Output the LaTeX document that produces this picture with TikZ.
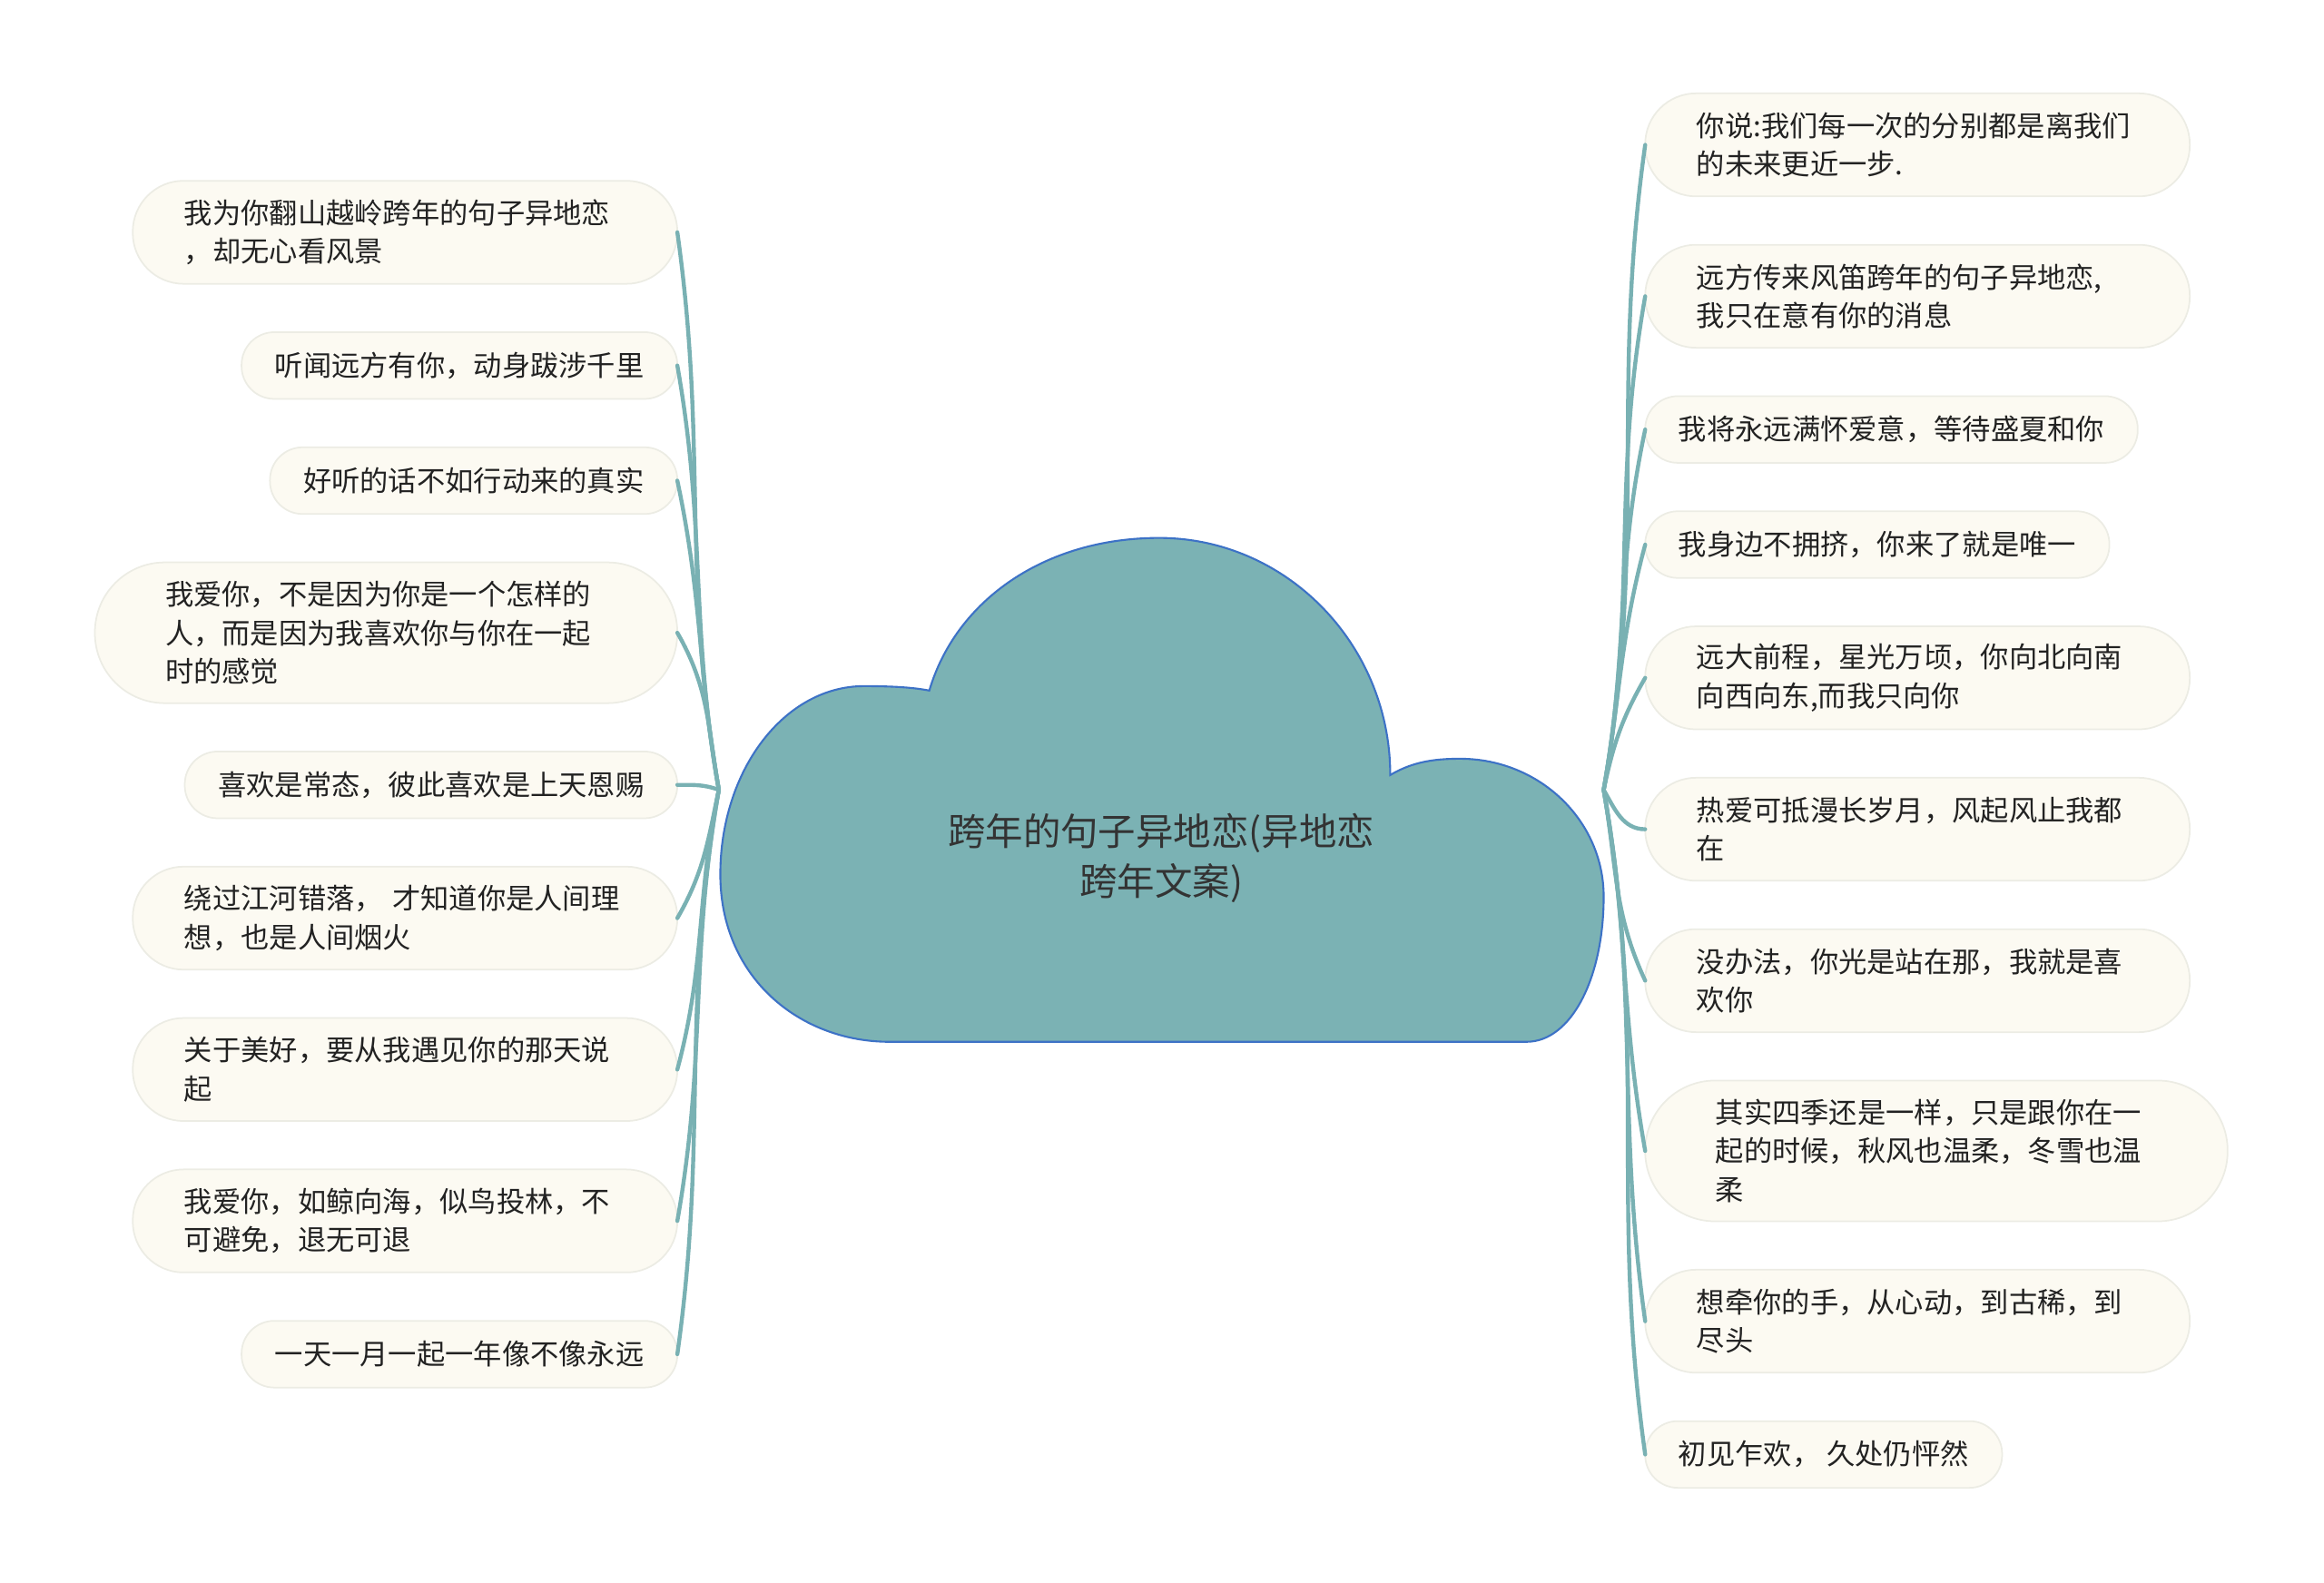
\documentclass[tikz,border=0pt]{standalone}
\usepackage{fontspec}
\usepackage{tikz}
\usetikzlibrary{positioning}
\newfontfamily\cjkfont{Noto Sans CJK SC}
\definecolor{bubblefill}{HTML}{7BB2B4}
\definecolor{bubbleline}{HTML}{3D72C6}
\definecolor{branchcol}{HTML}{79B1B3}
\definecolor{leaffill}{HTML}{FCFAF2}
\definecolor{leafline}{HTML}{ECECE4}
\definecolor{leaftext}{HTML}{222222}
\definecolor{topictext}{HTML}{333333}

\begin{document}
\begin{tikzpicture}[x=0.016327cm, y=-0.016327cm, node distance=0.533cm,
    bubble/.style={draw=bubbleline, line width=0.6pt, fill=bubblefill},
    topic/.style={font=\cjkfont\fontsize{11.8}{15.8}\selectfont, text=topictext, align=center},
    leaf/.style={rectangle, rounded corners=0.36cm, draw=leafline, line width=0.5pt, fill=leaffill,
        inner xsep=0.367cm, inner ysep=0pt, outer sep=0pt, minimum height=0.735cm,
        font=\cjkfont\fontsize{8.9}{12.08}\selectfont, text=leaftext, align=left},
    lines2/.style={minimum height=1.135cm, rounded corners=0.56cm, inner xsep=0.567cm, text width=4.865cm},
    lines3/.style={minimum height=1.551cm, rounded corners=0.77cm, inner xsep=0.7755cm, text width=4.865cm},
    branch/.style={draw=branchcol, line width=1.25pt, line cap=round}
]
\useasboundingbox (0,0) rectangle (1568,1068);

% Cloud
\draw[bubble] (600,703) .. controls (540,703) and (486,660) .. (486,590)
    .. controls (486,520) and (529,463) .. (583,463)
    .. controls (603,463) and (617,464) .. (627,466)
    .. controls (645,405) and (705,363) .. (782,363)
    .. controls (868,363) and (938,435) .. (938,523)
    .. controls (953,514) and (968,512) .. (985,512)
    .. controls (1039,512) and (1082,554) .. (1082,605)
    .. controls (1082,660) and (1060,703) .. (1030,703)
    -- cycle;
\node[topic] (topic) at (783.5,579) {跨年的句子异地恋(异地恋\\跨年文案)};
\coordinate (lhub) at (485,533);
\coordinate (rhub) at (1082,533);

% Left side
\node[leaf, lines2, anchor=north east] (L1) at (457,122) {我为你翻山越岭跨年的句子异地恋\\，却无心看风景};
\node[leaf, below=of L1.south east, anchor=north east] (L2) {听闻远方有你，动身跋涉千里};
\node[leaf, below=of L2.south east, anchor=north east] (L3) {好听的话不如行动来的真实};
\node[leaf, lines3, below=of L3.south east, anchor=north east] (L4) {我爱你，不是因为你是一个怎样的\\人，而是因为我喜欢你与你在一起\\时的感觉};
\node[leaf, below=of L4.south east, anchor=north east] (L5) {喜欢是常态，彼此喜欢是上天恩赐};
\node[leaf, lines2, below=of L5.south east, anchor=north east] (L6) {绕过江河错落， 才知道你是人间理\\想，也是人间烟火};
\node[leaf, lines2, below=of L6.south east, anchor=north east] (L7) {关于美好，要从我遇见你的那天说\\起};
\node[leaf, lines2, below=of L7.south east, anchor=north east] (L8) {我爱你，如鲸向海，似鸟投林，不\\可避免，退无可退};
\node[leaf, below=of L8.south east, anchor=north east] (L9) {一天一月一起一年像不像永远};

% Right side
\node[leaf, lines2, anchor=north west] (R1) at (1110,63) {你说:我们每一次的分别都是离我们\\的未来更近一步.};
\node[leaf, lines2, below=of R1.south west, anchor=north west] (R2) {远方传来风笛跨年的句子异地恋,\\我只在意有你的消息};
\node[leaf, below=of R2.south west, anchor=north west] (R3) {我将永远满怀爱意，等待盛夏和你};
\node[leaf, below=of R3.south west, anchor=north west] (R4) {我身边不拥挤，你来了就是唯一};
\node[leaf, lines2, below=of R4.south west, anchor=north west] (R5) {远大前程，星光万顷，你向北向南\\向西向东,而我只向你};
\node[leaf, lines2, below=of R5.south west, anchor=north west] (R6) {热爱可抵漫长岁月，风起风止我都\\在};
\node[leaf, lines2, below=of R6.south west, anchor=north west] (R7) {没办法，你光是站在那，我就是喜\\欢你};
\node[leaf, lines3, below=of R7.south west, anchor=north west] (R8) {其实四季还是一样，只是跟你在一\\起的时候，秋风也温柔，冬雪也温\\柔};
\node[leaf, lines2, below=of R8.south west, anchor=north west] (R9) {想牵你的手，从心动，到古稀，到\\尽头};
\node[leaf, below=of R9.south west, anchor=north west] (R10) {初见乍欢， 久处仍怦然};

% Connections
\foreach \n/\o/\i in {L1/100/-82, L2/100/-80, L3/100/-78, L4/100/-60, L5/160/0,
    L6/258/60, L7/258/75, L8/260/80, L9/260/82}
  \draw[branch] (lhub) to[out=\o, in=\i] (\n.east);
\foreach \n/\o/\i in {R1/80/-98, R2/80/-100, R3/80/-102, R4/80/-105, R5/78/-120,
    R6/-60/180, R7/-80/115, R8/-80/100, R9/-80/98, R10/-80/98}
  \draw[branch] (rhub) to[out=\o, in=\i] (\n.west);

\end{tikzpicture}
\end{document}
